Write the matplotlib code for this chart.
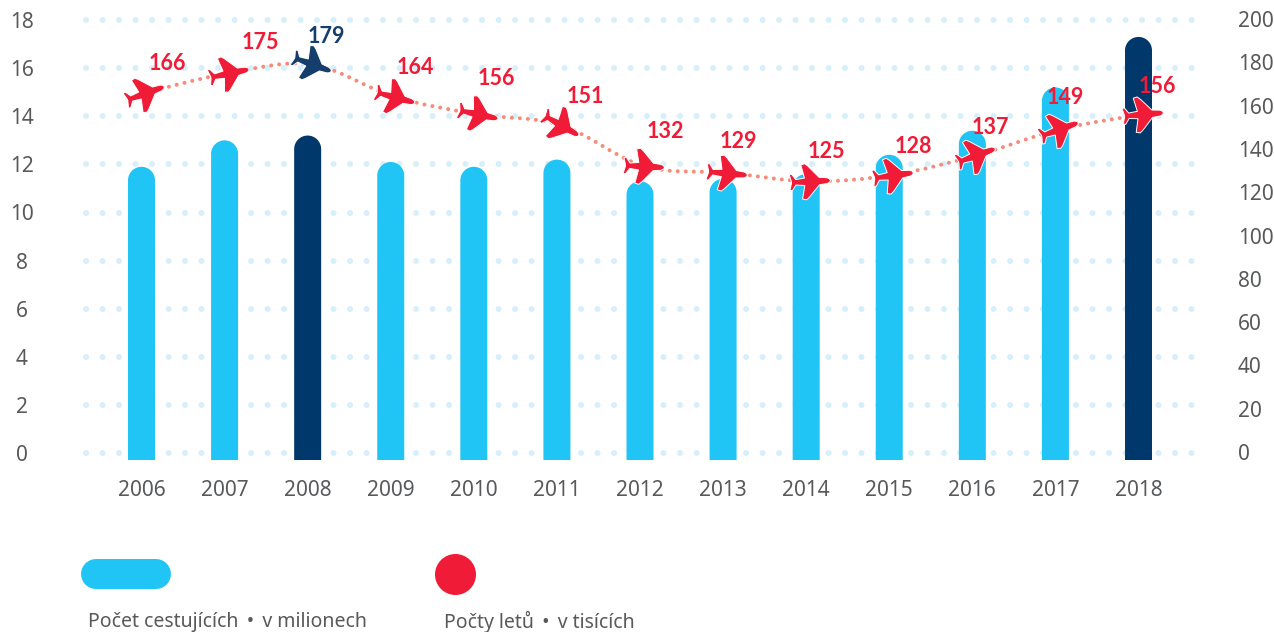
import numpy as np
import matplotlib
matplotlib.use('Agg')
import matplotlib.pyplot as plt
from matplotlib.lines import Line2D
from matplotlib.markers import MarkerStyle
from matplotlib.patches import PathPatch
from matplotlib.path import Path
from matplotlib.transforms import Affine2D

plt.rcParams['font.family'] = ['Noto Sans', 'DejaVu Sans']

years = [2006, 2007, 2008, 2009, 2010, 2011, 2012, 2013, 2014, 2015, 2016, 2017, 2018]
passengers = [11.9, 13.0, 13.2, 12.1, 11.9, 12.2, 11.3, 11.4, 11.6, 12.4, 13.4, 15.2, 17.3]
flights = [166, 175, 179, 164, 156, 151, 132, 129, 125, 128, 137, 149, 156]
highlight_bars = [2008, 2018]
highlight_flight = 2008

# nose direction of each plane in degrees and label offset from the point, in pixels
plane_angles = [20, 12, -20, -15, -12, -30, -3, -5, 3, 8, 20, 20, 5]
label_offsets = [(22, 29), (32, 31), (15, 28), (21, 29), (19, 36), (24, 29), (21, 35),
                 (11, 31), (16, 30), (20, 28), (14, 28), (6, 32), (15, 28)]

LIGHT = '#20c4f5'
NAVY = '#00386b'
RED = '#f01b36'
PLANE_NAVY = '#163e6c'
GREY = '#58595b'
GRID = '#d6effb'
W, H = 1274, 632


def px(n):
    return n * 72 / 100


def plane_marker(angle):
    top = [(20.5, 0), (19.5, 1.8), (17, 3), (9, 3.8), (-2, 16), (-5, 18.5), (-9, 17.5), (-6, 3.8),
           (-15, 2.8), (-19, 8.5), (-21.5, 8), (-19.5, 0.8)]
    outline = top + [(x, -y) for x, y in top[:0:-1]] + [(20.5, 0)]
    path = Path(outline, closed=True)
    return MarkerStyle(path, transform=Affine2D().rotate_deg(angle))


def rounded_bar(x, value, base, half, rise):
    # bar outline in data units, the head is a half ellipse that looks round on screen
    k = 0.5523
    verts = [(x - half, base), (x - half, value - rise),
             (x - half, value - rise + k * rise), (x - k * half, value), (x, value),
             (x + k * half, value), (x + half, value - rise + k * rise), (x + half, value - rise),
             (x + half, base), (x - half, base)]
    codes = [Path.MOVETO, Path.LINETO, Path.CURVE4, Path.CURVE4, Path.CURVE4,
             Path.CURVE4, Path.CURVE4, Path.CURVE4, Path.LINETO, Path.CLOSEPOLY]
    return Path(verts, codes)


def smooth_path(x, y):
    # Catmull-Rom through the values, as Bezier segments
    x = np.asarray(x, dtype=float)
    y = np.asarray(y, dtype=float)
    verts = [(x[0], y[0])]
    codes = [Path.MOVETO]
    for i in range(len(x) - 1):
        a = max(i - 1, 0)
        d = min(i + 2, len(x) - 1)
        verts.append((x[i] + (x[i + 1] - x[a]) / 6, y[i] + (y[i + 1] - y[a]) / 6))
        verts.append((x[i + 1] - (x[d] - x[i]) / 6, y[i + 1] - (y[d] - y[i]) / 6))
        verts.append((x[i + 1], y[i + 1]))
        codes += [Path.CURVE4] * 3
    return Path(verts, codes)


fig = plt.figure(figsize=(W / 100, H / 100), dpi=100)
left, right, top, bottom = 86, 1196, 10, 460
ax = fig.add_axes([left / W, 1 - bottom / H, (right - left) / W, (bottom - top) / H])
ax2 = ax.twinx()

step = 83.1
ax.set_xlim(2006 - (141.5 - left) / step, 2018 + (right - 1138.5) / step)
ax.set_ylim((453 - bottom) / 24.05, (453 - top) / 24.05)
ax2.set_ylim((452 - bottom) / 2.165, (452 - top) / 2.165)

base = ax.get_ylim()[0]
for year, value in zip(years, passengers):
    color = NAVY if year in highlight_bars else LIGHT
    ax.add_patch(PathPatch(rounded_bar(year, value, base, 13.5 / step, 13.5 / 24.05),
                           fc=color, ec='none', zorder=2))

ax.set_axisbelow(True)
ax.grid(axis='y', color=GRID, lw=px(6), linestyle=(0, (0.01, 2.74)), dash_capstyle='round',
        clip_on=False)
ax.grid(axis='x', visible=False)
ax.set_yticks(range(0, 19, 2))
ax.set_xticks(years)
ax2.set_yticks(range(0, 201, 20))

ax.tick_params(axis='y', length=0, pad=px(left - 22), labelsize=15, labelcolor=GREY)
for label in ax.get_yticklabels():
    label.set_ha('center')
ax.tick_params(axis='x', length=0, pad=px(20), labelsize=15, labelcolor=GREY)
ax2.tick_params(axis='y', length=0, pad=px(1238 - right), labelsize=15, labelcolor=GREY)
for a in (ax, ax2):
    for spine in a.spines.values():
        spine.set_visible(False)

# the flights sit a few pixels right of the year position
shifted = ax2.transData + Affine2D().translate(4, 0)
ax2.add_patch(PathPatch(smooth_path(years, flights), fill=False, ec='#f58b78', lw=px(4),
                        linestyle=(0, (0.01, 2.0)), capstyle='round', zorder=3, transform=shifted))
for year, value, angle, off in zip(years, flights, plane_angles, label_offsets):
    color = PLANE_NAVY if year == highlight_flight else RED
    ax2.plot([year], [value], marker=plane_marker(angle), ms=px(42), mfc=color, mec='white',
             mew=0.7, ls='none', zorder=4, transform=shifted)
    ax2.annotate(str(value), (year, value), xycoords=shifted, xytext=(px(off[0]), px(off[1])),
                 textcoords='offset points', ha='center', va='center', color=color,
                 fontsize=15.5, fontweight='bold', family=['Lato', 'DejaVu Sans'], zorder=5)

# legend, drawn on the figure
def fx(x):
    return x / W


def fy(y):
    return 1 - y / H


fig.add_artist(Line2D([fx(96), fx(156)], [fy(574), fy(574)], color=LIGHT, lw=px(30),
                      solid_capstyle='round'))
fig.add_artist(Line2D([fx(455)], [fy(574)], marker='o', ms=px(41), mfc=RED, mec='none'))
fig.text(fx(88), fy(622), 'Počet cestujících \u2009•\u2009 v milionech', color=GREY, fontsize=14,
         va='center', ha='left')
fig.text(fx(444), fy(622), 'Počty letů \u2009•\u2009 v tisících', color=GREY, fontsize=14,
         va='center', ha='left')

fig.savefig('out.png', dpi=100)
